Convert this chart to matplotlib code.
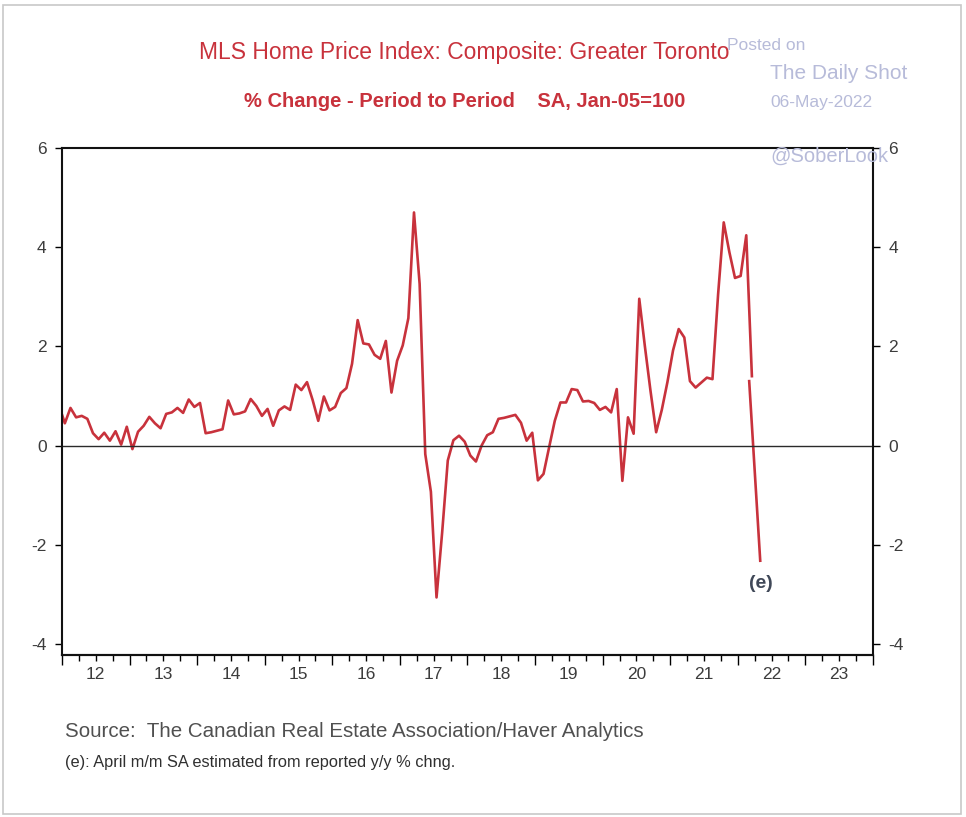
import numpy as np
import pandas as pd
import matplotlib
matplotlib.use('Agg')
import matplotlib.pyplot as plt
from matplotlib.patches import Rectangle
from matplotlib.ticker import MultipleLocator

plt.rcParams['font.family'] = ['Liberation Sans', 'DejaVu Sans']

# ---------------- data ----------------
start_month = '2011-12'
end_month = '2022-03'
mom_pct = [
    0.80,                                                                   # Dec-11
    0.45, 0.76, 0.57, 0.60, 0.54, 0.25, 0.13, 0.26, 0.10, 0.29, 0.02, 0.38,  # 2012
    -0.07, 0.28, 0.40, 0.58, 0.45, 0.35, 0.64, 0.67, 0.76, 0.66, 0.93, 0.78,  # 2013
    0.86, 0.25, 0.27, 0.30, 0.33, 0.91, 0.63, 0.65, 0.69, 0.94, 0.80, 0.60,  # 2014
    0.74, 0.40, 0.71, 0.79, 0.72, 1.23, 1.12, 1.28, 0.92, 0.50, 0.99, 0.71,  # 2015
    0.78, 1.06, 1.16, 1.65, 2.53, 2.06, 2.04, 1.83, 1.75, 2.11, 1.07, 1.71,  # 2016
    2.02, 2.57, 4.70, 3.26, -0.17, -0.93, -3.06, -1.75, -0.30, 0.11, 0.20, 0.08,  # 2017
    -0.20, -0.32, 0.00, 0.21, 0.27, 0.54, 0.56, 0.59, 0.62, 0.46, 0.10, 0.26,  # 2018
    -0.70, -0.57, -0.03, 0.50, 0.87, 0.87, 1.14, 1.12, 0.89, 0.90, 0.86, 0.72,  # 2019
    0.78, 0.67, 1.14, -0.71, 0.57, 0.24, 2.96, 2.00, 1.10, 0.27, 0.72, 1.28,  # 2020
    1.92, 2.35, 2.18, 1.30, 1.17, 1.27, 1.37, 1.34, 3.05, 4.50, 3.90, 3.38,  # 2021
    3.42, 4.24, 1.40,                                                       # 2022
]
estimate_month = '2022-04'
estimate_from_value = 1.30
estimate_value = -2.32

year_labels = ['12', '13', '14', '15', '16', '17', '18', '19', '20', '21', '22', '23']
y_ticks = [-4, -2, 0, 2, 4, 6]

title = 'MLS Home Price Index: Composite: Greater Toronto'
subtitle = '% Change - Period to Period    SA, Jan-05=100'
source = 'Source:  The Canadian Real Estate Association/Haver Analytics'
footnote = '(e): April m/m SA estimated from reported y/y % chng.'

# ---------------- positions ----------------
months = pd.period_range(start_month, end_month, freq='M')
x = months.year + (months.month - 0.5) / 12.0
est_p = pd.Period(estimate_month, freq='M')
x_est = est_p.year + (est_p.month - 0.5) / 12.0

RED = '#c8323c'
TXT = '#3c3c3c'
WM = '#b7bbd9'

fig = plt.figure(figsize=(9.66, 8.17), dpi=100)
fig.patches.append(Rectangle((0.003, 0.004), 0.992, 0.99, transform=fig.transFigure,
                             fill=False, edgecolor='#c8c8c8', lw=1.2))

ax = fig.add_axes([0.0642, 0.1983, 0.8395, 0.6206])
ax.set_xlim(2012, 2024)
ax.set_ylim(-4.22, 6)
ax.plot(x, mom_pct, color=RED, lw=1.9, solid_joinstyle='round')
ax.plot([x[-1] - 0.04, x_est + 0.04], [estimate_from_value, estimate_value], color=RED, lw=1.9)
ax.axhline(0, color='#2a2a2a', lw=1.0)

for s in ax.spines.values():
    s.set_linewidth(1.5)
    s.set_color('#111111')

ax.set_yticks(y_ticks)
ax.set_yticklabels([str(v) for v in y_ticks])
ax.tick_params(axis='y', direction='out', length=5, width=1.0, pad=6,
               labelsize=12.5, labelcolor=TXT)

ax2 = ax.twinx()
ax2.set_ylim(ax.get_ylim())
ax2.set_yticks(y_ticks)
ax2.set_yticklabels([str(v) for v in y_ticks])
ax2.tick_params(axis='y', direction='out', length=5, width=1.0, pad=6,
                labelsize=12.5, labelcolor=TXT)
for s in ax2.spines.values():
    s.set_visible(False)

ax.set_xticks([2012.5 + k for k in range(len(year_labels))])
ax.set_xticklabels(year_labels)
ax.tick_params(axis='x', length=0, pad=9, labelsize=12.5, labelcolor=TXT)

sec = ax.secondary_xaxis('bottom')
sec.set_xticks(list(range(2012, 2025)))
sec.set_xticklabels([])
sec.xaxis.set_minor_locator(MultipleLocator(0.25))
sec.tick_params(which='major', direction='out', length=7, width=1.0)
sec.tick_params(which='minor', direction='out', length=4, width=1.0)
sec.spines['bottom'].set_linewidth(1.5)

ax.text(x_est + 0.05, -2.78, '(e)', fontsize=14, color='#404858', fontweight='bold',
        ha='center', va='center')

fig.text(0.481, 0.936, title, color=RED, fontsize=16.5, ha='center', va='center')
fig.text(0.481, 0.876, subtitle, color=RED, fontsize=14.5, fontweight='bold',
         ha='center', va='center')

fig.text(0.753, 0.944, 'Posted on', color=WM, fontsize=12.5, ha='left', va='center')
fig.text(0.797, 0.910, 'The Daily Shot', color=WM, fontsize=15, ha='left', va='center')
fig.text(0.797, 0.874, '06-May-2022', color=WM, fontsize=12.5, ha='left', va='center')
fig.text(0.797, 0.809, '@SoberLook', color=WM, fontsize=14.5, ha='left', va='center')

fig.text(0.067, 0.105, source, color='#505050', fontsize=14.8, ha='left', va='center')
fig.text(0.067, 0.067, footnote, color='#303030', fontsize=11.8,
         ha='left', va='center')

fig.savefig('out.png', dpi=100)
